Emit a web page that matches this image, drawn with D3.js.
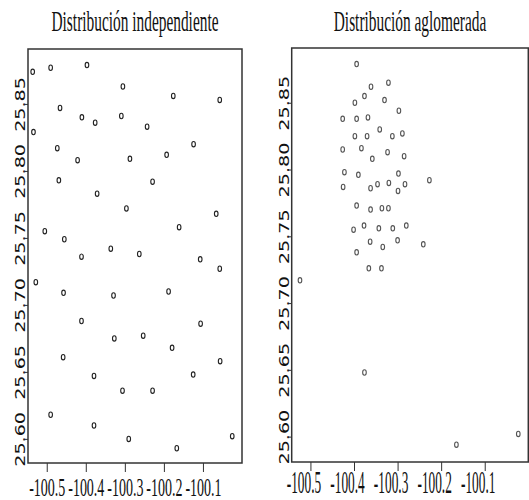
<!DOCTYPE html>
<html>
<head>
<meta charset="utf-8">
<script src="https://cdn.jsdelivr.net/npm/d3@7"></script>
<style>
  body { margin: 0; background: #fff; }
  svg { display: block; }
</style>
</head>
<body>
<svg id="chart" width="529" height="500"></svg>
<script>
// data (longitude, latitude)
const lonIndep = [-100.536, -100.490, -100.397, -100.305, -100.176, -100.057, -100.466, -100.410, -100.376, -100.309,
  -100.243, -100.534, -100.124, -100.473, -100.421, -100.287, -100.193, -100.469, -100.229, -100.371,
  -100.296, -100.066, -100.505, -100.161, -100.455, -100.336, -100.411, -100.263, -100.107, -100.057,
  -100.528, -100.457, -100.329, -100.188, -100.411, -100.106, -100.327, -100.253, -100.179, -100.458,
  -100.056, -100.379, -100.125, -100.306, -100.229, -100.490, -100.379, -100.290, -100.167, -100.025];
const latIndep = [25.874, 25.877, 25.879, 25.863, 25.856, 25.853, 25.847, 25.840, 25.836, 25.841,
  25.833, 25.829, 25.820, 25.817, 25.808, 25.809, 25.812, 25.793, 25.792, 25.783,
  25.772, 25.768, 25.755, 25.758, 25.749, 25.742, 25.736, 25.738, 25.734, 25.727,
  25.717, 25.709, 25.707, 25.710, 25.688, 25.686, 25.675, 25.677, 25.668, 25.661,
  25.658, 25.647, 25.648, 25.636, 25.636, 25.618, 25.610, 25.600, 25.593, 25.602];

const lonAglom = [-100.394, -100.321, -100.361, -100.376, -100.330, -100.398, -100.297, -100.426, -100.394, -100.368,
  -100.341, -100.398, -100.370, -100.312, -100.289, -100.426, -100.383, -100.323, -100.358, -100.285,
  -100.422, -100.390, -100.298, -100.227, -100.425, -100.362, -100.346, -100.320, -100.299, -100.283,
  -100.394, -100.362, -100.336, -100.321, -100.401, -100.377, -100.343, -100.311, -100.280, -100.363,
  -100.334, -100.300, -100.241, -100.394, -100.366, -100.337, -100.524, -100.376, -100.165, -100.023];
const latAglom = [25.879, 25.865, 25.862, 25.855, 25.852, 25.850, 25.844, 25.838, 25.838, 25.839,
  25.830, 25.825, 25.825, 25.825, 25.827, 25.815, 25.816, 25.813, 25.808, 25.810,
  25.798, 25.796, 25.797, 25.792, 25.787, 25.786, 25.789, 25.790, 25.784, 25.789,
  25.773, 25.770, 25.771, 25.771, 25.755, 25.758, 25.756, 25.756, 25.758, 25.746,
  25.742, 25.747, 25.744, 25.738, 25.726, 25.726, 25.717, 25.648, 25.594, 25.602];

const xTicks = [-100.5, -100.4, -100.3, -100.2, -100.1];
const yTicks = [25.60, 25.65, 25.70, 25.75, 25.80, 25.85];
const titles = ["Distribución independiente", "Distribución aglomerada"];

// layout of each panel (the two panels were not drawn at the same scale)
const panels = [
  { title: titles[0], lon: lonIndep, lat: latIndep, x0: 28, x1: 242, y0: 49, y1: 463,
    xDom: [-100.548, -100.0], yDom: [25.582, 25.891], dot: "#222",
    xFont: 25, xScaleX: 0.56, xBase: 33, xShift: 0 },
  { title: titles[1], lon: lonAglom, lat: latAglom, x0: 291.7, x1: 528.3, y0: 48, y1: 462,
    xDom: [-100.543, -100.0], yDom: [25.581, 25.891], dot: "#555",
    xFont: 31, xScaleX: 0.43, xBase: 31, xShift: -7 }
];

const svg = d3.select("#chart");

panels.forEach(p => {
  const x = d3.scaleLinear().domain(p.xDom).range([p.x0, p.x1]);
  const y = d3.scaleLinear().domain(p.yDom).range([p.y1, p.y0]);
  const g = svg.append("g");

  // title
  g.append("text")
    .attr("transform", `translate(${(p.x0 + p.x1) / 2},31) scale(0.54,1)`)
    .attr("text-anchor", "middle")
    .style("font-family", "'Liberation Serif', 'Times New Roman', serif")
    .style("font-size", "28.5px")
    .attr("fill", "#111")
    .text(p.title);

  // bottom axis (plain hyphen as minus sign, like the original)
  const xa = g.append("g")
    .attr("transform", `translate(0,${p.y1})`)
    .call(d3.axisBottom(x).tickValues(xTicks).tickSize(9).tickFormat(d => d.toFixed(1)));
  xa.select(".domain").remove();
  xa.selectAll("line").attr("stroke", "#333");
  xa.selectAll("text")
    .attr("y", null).attr("dy", null)
    .attr("transform", `translate(${p.xShift},${p.xBase}) scale(${p.xScaleX},1)`)
    .style("font-family", "'Liberation Serif', 'Times New Roman', serif")
    .style("font-size", p.xFont + "px")
    .attr("fill", "#111");

  // left axis, labels rotated
  const ya = g.append("g")
    .attr("transform", `translate(${p.x0},0)`)
    .call(d3.axisLeft(y).tickValues(yTicks).tickSize(3).tickFormat(d => d.toFixed(2)));
  ya.select(".domain").remove();
  ya.selectAll("line").attr("stroke", "#333");
  ya.selectAll("text")
    .attr("x", null).attr("dy", null)
    .attr("text-anchor", "middle")
    .attr("transform", "translate(-3,0) rotate(-90) scale(1.37,1)")
    .style("font-family", "'DejaVu Sans', sans-serif")
    .style("font-size", "14px")
    .attr("fill", "#111");

  // frame
  g.append("rect")
    .attr("x", p.x0).attr("y", p.y0)
    .attr("width", p.x1 - p.x0).attr("height", p.y1 - p.y0)
    .attr("fill", "none")
    .attr("stroke", "#333")
    .attr("stroke-width", 1.5);

  // points
  g.append("g")
    .selectAll("ellipse")
    .data(p.lon.map((d, i) => ({ lon: d, lat: p.lat[i] })))
    .join("ellipse")
    .attr("cx", d => x(d.lon))
    .attr("cy", d => y(d.lat))
    .attr("rx", 1.8)
    .attr("ry", 2.7)
    .attr("fill", "none")
    .attr("stroke", p.dot)
    .attr("stroke-width", 1.1);
});
</script>
</body>
</html>
